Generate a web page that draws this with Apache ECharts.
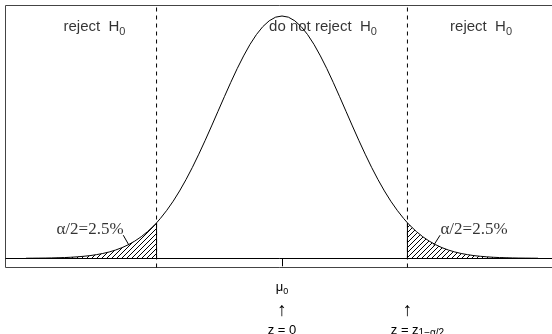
<!DOCTYPE html>
<html><head><meta charset="utf-8">
<script src="https://cdn.jsdelivr.net/npm/echarts@6/dist/echarts.min.js"></script>
<style>html,body{margin:0;padding:0;background:#fff}#c{width:552px;height:334px}</style>
</head><body><div id="c"></div>
<script>
// ---- data ----
const curveX = [-4.0,-3.9,-3.8,-3.7,-3.6,-3.5,-3.4,-3.3,-3.2,-3.1,-3.0,-2.9,-2.8,-2.7,-2.6,-2.5,-2.4,-2.3,-2.2,-2.1,-2.0,-1.96,-1.9,-1.8,-1.7,-1.6,-1.5,-1.4,-1.3,-1.2,-1.1,-1.0,-0.9,-0.8,-0.7,-0.6,-0.5,-0.4,-0.3,-0.2,-0.1,0.0,
  0.1,0.2,0.3,0.4,0.5,0.6,0.7,0.8,0.9,1.0,1.1,1.2,1.3,1.4,1.5,1.6,1.7,1.8,1.9,1.96,2.0,2.1,2.2,2.3,2.4,2.5,2.6,2.7,2.8,2.9,3.0,3.1,3.2,3.3,3.4,3.5,3.6,3.7,3.8,3.9,4.0];
const curveY = [0.0001,0.0002,0.0003,0.0004,0.0006,0.0009,0.0012,0.0017,0.0024,0.0033,0.0044,0.0060,0.0079,0.0104,0.0136,0.0175,0.0224,0.0283,0.0355,0.0440,0.0540,0.0584,0.0656,0.0790,0.0940,0.1109,0.1295,0.1497,0.1714,0.1942,0.2179,0.2420,0.2661,0.2897,0.3123,0.3332,0.3521,0.3683,0.3814,0.3910,0.3970,0.3989,
  0.3970,0.3910,0.3814,0.3683,0.3521,0.3332,0.3123,0.2897,0.2661,0.2420,0.2179,0.1942,0.1714,0.1497,0.1295,0.1109,0.0940,0.0790,0.0656,0.0584,0.0540,0.0440,0.0355,0.0283,0.0224,0.0175,0.0136,0.0104,0.0079,0.0060,0.0044,0.0033,0.0024,0.0017,0.0012,0.0009,0.0006,0.0004,0.0003,0.0002,0.0001];
const leftTailX = [-4.0,-3.9,-3.8,-3.7,-3.6,-3.5,-3.4,-3.3,-3.2,-3.1,-3.0,-2.9,-2.8,-2.7,-2.6,-2.5,-2.4,-2.3,-2.2,-2.1,-2.0,-1.96];
const leftTailY = [0.0001,0.0002,0.0003,0.0004,0.0006,0.0009,0.0012,0.0017,0.0024,0.0033,0.0044,0.0060,0.0079,0.0104,0.0136,0.0175,0.0224,0.0283,0.0355,0.0440,0.0540,0.0584];
const rightTailX = [1.96,2.0,2.1,2.2,2.3,2.4,2.5,2.6,2.7,2.8,2.9,3.0,3.1,3.2,3.3,3.4,3.5,3.6,3.7,3.8,3.9,4.0];
const rightTailY = [0.0584,0.0540,0.0440,0.0355,0.0283,0.0224,0.0175,0.0136,0.0104,0.0079,0.0060,0.0044,0.0033,0.0024,0.0017,0.0012,0.0009,0.0006,0.0004,0.0003,0.0002,0.0001];
const criticalX = [-1.96, 1.96];
const criticalY = 0.0584;
const regionLabels = ['reject', 'do not reject', 'reject'];
const regionX = [-2.93, 0.64, 3.11];
const regionY = [0.381, 0.381, 0.381];
const alphaLabels = ['α/2=2.5%', 'α/2=2.5%'];
const alphaX = [-3.0, 3.0];
const alphaY = [0.048, 0.048];
const leaderLeft = [[-2.48, 0.038], [-2.39, 0.0214]];
const leaderRight = [[2.47, 0.038], [2.37, 0.0214]];
const tickValues = [0];
const labelValues = [0, 1.96];
const xMin = -4.32, xMax = 4.32, yMin = -0.01515, yMax = 0.4162;

// ---- drawing ----
function zip(a, b) { return a.map((v, i) => [v, b[i]]); }
function hatch() {
  const n = 5, c = document.createElement('canvas');
  c.width = n; c.height = n;
  const g = c.getContext('2d');
  g.strokeStyle = '#000'; g.lineWidth = 1;
  g.beginPath();
  g.moveTo(0, n); g.lineTo(n, 0);
  g.moveTo(-1, 1); g.lineTo(1, -1);
  g.moveTo(n - 1, n + 1); g.lineTo(n + 1, n - 1);
  g.stroke();
  return c;
}
const pattern = { image: hatch(), repeat: 'repeat' };
const SANS = 'Liberation Sans', SERIF = 'Liberation Serif';
const line = (data, extra) => Object.assign({
  type: 'line', data, symbol: 'none', silent: true, clip: false,
  lineStyle: { color: '#000', width: 1 }
}, extra || {});

const chart = echarts.init(document.getElementById('c'), null, { renderer: 'canvas' });
chart.setOption({
  animation: false,
  backgroundColor: '#fff',
  grid: { left: 5.5, top: 5.5, width: 553, height: 262, show: true, borderColor: '#444', borderWidth: 1,
    backgroundColor: 'transparent', containLabel: false, outerBoundsMode: 'none' },
  xAxis: {
    type: 'value', min: xMin, max: xMax,
    splitLine: { show: false },
    axisLine: { show: false },
    axisTick: { show: true, customValues: tickValues, length: 8, lineStyle: { color: '#000', width: 1 } },
    axisLabel: {
      show: true, customValues: labelValues, margin: 9, color: '#000', hideOverlap: false,
      formatter: v => v === 0
        ? '{m|μ}{ms|0}\n{a|↑}\n{m|z = 0}'
        : '{m| }\n{a|↑}\n{zp|z = z}{ms2|1−α/2}',
      rich: {
        m: { fontFamily: SANS, fontSize: 13, lineHeight: 21.5, color: '#000' },
        zp: { fontFamily: SANS, fontSize: 13, lineHeight: 21.5, color: '#000', padding: [0, 0, 0, 20] },
        a: { fontFamily: SANS, fontSize: 19, lineHeight: 21.5, height: 16.5, verticalAlign: 'bottom', color: '#000' },
        ms: { fontFamily: SANS, fontSize: 9, lineHeight: 21.5, height: 13.5, verticalAlign: 'bottom', color: '#000' },
        ms2: { fontFamily: SANS, fontSize: 10, lineHeight: 21.5, height: 16.5, verticalAlign: 'bottom', color: '#000' }
      }
    }
  },
  yAxis: { type: 'value', min: yMin, max: yMax, show: false, splitLine: { show: false } },
  series: [
    line(zip(leftTailX, leftTailY), { lineStyle: { width: 0, opacity: 0 }, areaStyle: { color: pattern, opacity: 1 } }),
    line(zip(rightTailX, rightTailY), { lineStyle: { width: 0, opacity: 0 }, areaStyle: { color: pattern, opacity: 1 } }),
    line(zip(curveX, curveY), {
      markLine: {
        silent: true, symbol: ['none', 'none'], label: { show: false },
        lineStyle: { color: '#000', type: 'solid', width: 1 },
        data: [{ yAxis: 0 }]
      }
    }),
    line([[criticalX[0], 0], [criticalX[0], criticalY]]),
    line([[criticalX[1], 0], [criticalX[1], criticalY]]),
    line([[criticalX[0], yMin], [criticalX[0], yMax]], { lineStyle: { color: '#000', width: 1, type: [4, 4] } }),
    line([[criticalX[1], yMin], [criticalX[1], yMax]], { lineStyle: { color: '#000', width: 1, type: [4, 4] } }),
    line(leaderLeft),
    line(leaderRight),
    {
      type: 'scatter', symbolSize: 0, silent: true, clip: false,
      data: regionLabels.map((t, i) => ({ value: [regionX[i], regionY[i]], name: t })),
      label: {
        show: true, position: 'inside', color: '#000',
        formatter: p => '{n|' + p.name + '  H}{s|0}',
        rich: {
          n: { fontFamily: SANS, fontSize: 15, lineHeight: 20, color: '#000' },
          s: { fontFamily: SANS, fontSize: 11, lineHeight: 20, height: 10, verticalAlign: 'bottom', color: '#000' }
        }
      }
    },
    {
      type: 'scatter', symbolSize: 0, silent: true, clip: false,
      data: alphaLabels.map((t, i) => ({ value: [alphaX[i], alphaY[i]], name: t })),
      label: {
        show: true, position: 'inside', color: '#000',
        formatter: p => p.name,
        fontFamily: SERIF, fontSize: 17
      }
    }
  ]
});
</script></body></html>
